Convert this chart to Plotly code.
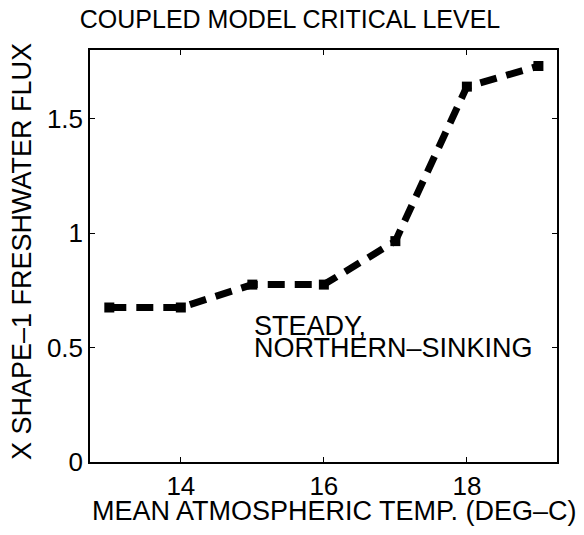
import plotly.graph_objects as go

temps = [13, 14, 15, 16, 17, 18, 19]
flux = [0.675, 0.675, 0.775, 0.775, 0.965, 1.64, 1.73]
x_ticks = [14, 16, 18]
y_ticks = [0, 0.5, 1, 1.5]
y_tick_labels = ["0", "0.5", "1", "1.5"]

FONT = "Liberation Sans, Arial, Helvetica, sans-serif"

fig = go.Figure()
fig.add_trace(go.Scatter(
    x=temps, y=flux, mode="lines+markers",
    line=dict(color="black", width=7, dash="17px,10px"),
    marker=dict(symbol="square", size=10, color="black"),
    showlegend=False, hoverinfo="skip",
))

axis_common = dict(
    showline=True, linecolor="black", linewidth=1.5, mirror="ticks",
    ticks="inside", ticklen=5, tickwidth=1, tickcolor="black",
    showgrid=False, zeroline=False,
    tickfont=dict(family=FONT, size=26, color="black"),
)

fig.update_xaxes(range=[12.73, 19.26], tickvals=x_ticks, ticktext=[str(v) for v in x_ticks], **axis_common)
fig.update_yaxes(range=[0, 1.8], tickvals=y_ticks, ticktext=y_tick_labels, **axis_common)

fig.update_layout(
    width=584, height=535,
    margin=dict(l=90, r=27, t=50, b=73),
    paper_bgcolor="white", plot_bgcolor="white",
    font=dict(family=FONT, color="black"),
    title=dict(text="COUPLED MODEL CRITICAL LEVEL", x=(290) / 584, xanchor="center",
               y=1 - 19 / 535, yanchor="middle", yref="container",
               font=dict(family=FONT, size=25, color="black")),
    annotations=[
        dict(text="MEAN ATMOSPHERIC TEMP. (DEG\u2013C)", xref="paper", yref="paper",
             x=(334.5 - 90) / 467, y=0, xanchor="center", yanchor="middle", yshift=-49,
             showarrow=False, font=dict(family=FONT, size=27, color="black")),
        dict(text="X SHAPE\u20131 FRESHWATER FLUX", xref="paper", yref="paper",
             x=0, y=0.5, xanchor="center", yanchor="middle", xshift=-68, yshift=4,
             textangle=-90, showarrow=False, font=dict(family=FONT, size=27, color="black")),
        dict(text="STEADY,", xref="x", yref="y", x=15, y=0.596, xanchor="left", yanchor="middle",
             showarrow=False, font=dict(family=FONT, size=27, color="black")),
        dict(text="NORTHERN\u2013SINKING", xref="x", yref="y", x=15, y=0.5, xanchor="left", yanchor="middle",
             showarrow=False, font=dict(family=FONT, size=27, color="black")),
    ],
)

fig.write_html("out.html")
